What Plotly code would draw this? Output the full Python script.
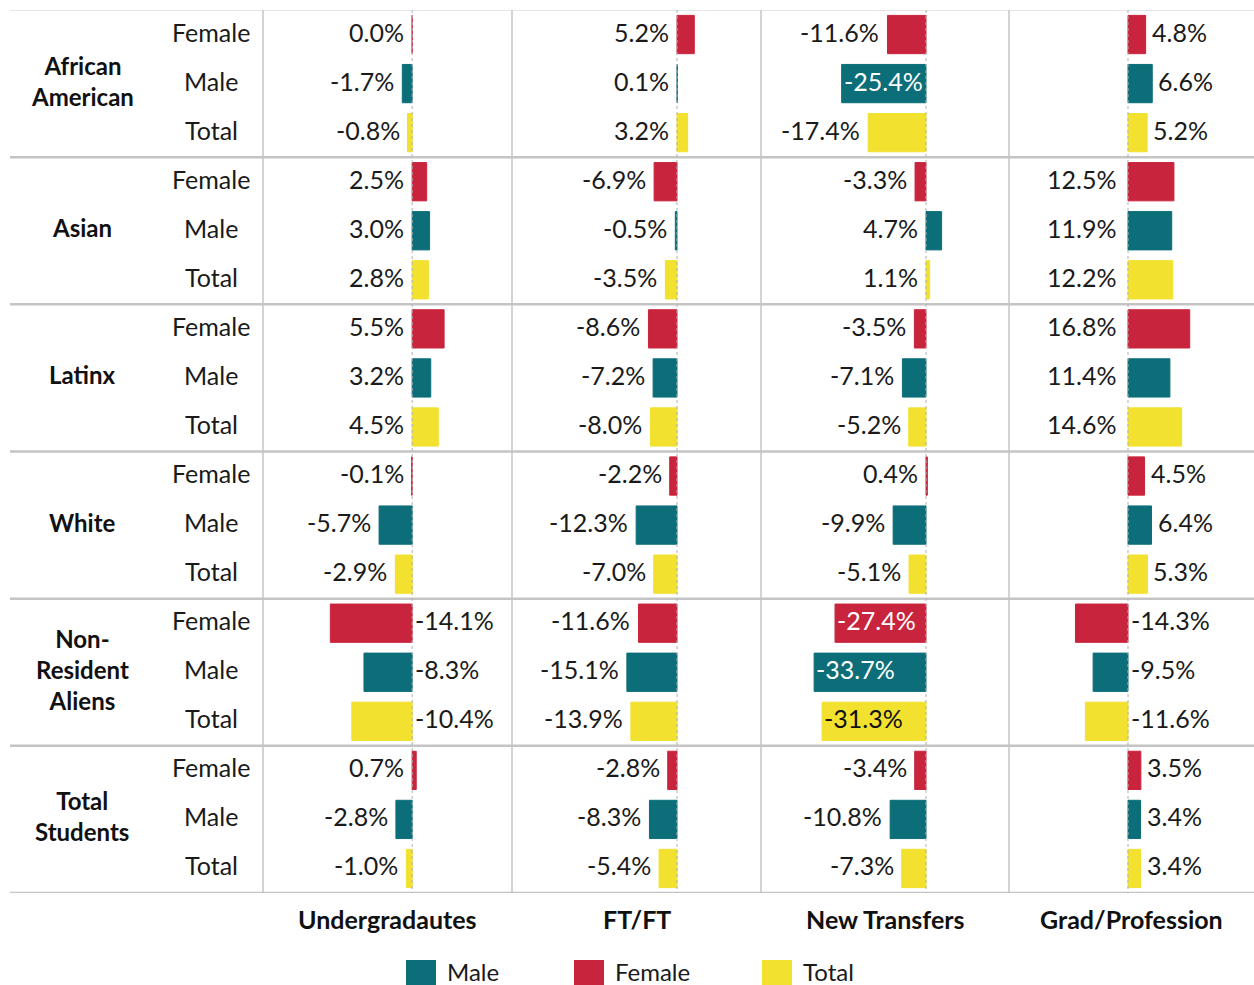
import plotly.graph_objects as go

W, H = 1254, 985

groups = ["African<br>American", "Asian", "Latinx", "White", "Non-<br>Resident<br>Aliens", "Total<br>Students"]
subgroups = ["Female", "Male", "Total"]
columns = ["Undergradautes", "FT/FT", "New Transfers", "Grad/Profession"]

undergrad = [0.0, -1.7, -0.8, 2.5, 3.0, 2.8, 5.5, 3.2, 4.5, -0.1, -5.7, -2.9, -14.1, -8.3, -10.4, 0.7, -2.8, -1.0]
ftft = [5.2, 0.1, 3.2, -6.9, -0.5, -3.5, -8.6, -7.2, -8.0, -2.2, -12.3, -7.0, -11.6, -15.1, -13.9, -2.8, -8.3, -5.4]
new_transfers = [-11.6, -25.4, -17.4, -3.3, 4.7, 1.1, -3.5, -7.1, -5.2, 0.4, -9.9, -5.1, -27.4, -33.7, -31.3, -3.4, -10.8, -7.3]
grad = [4.8, 6.6, 5.2, 12.5, 11.9, 12.2, 16.8, 11.4, 14.6, 4.5, 6.4, 5.3, -14.3, -9.5, -11.6, 3.5, 3.4, 3.4]

series = [undergrad, ftft, new_transfers, grad]

colors = {"Male": "#0B6E79", "Female": "#C9243D", "Total": "#F2E12F"}
FONT = "Lato"
TXT = "#1a1a1a"
VSIZE = 25
YS = 3

def px(x):
    return x / W

def py(y):
    return 1 - y / H

col_edges = [263, 512, 761, 1009, 1254]
x_ranges = [[-25.7, 17.2], [-49.7, 25.3], [-49.7, 25.0], [-32.4, 34.3]]
top_px, bot_px = 10, 893

fig = go.Figure()
axis_names = ["x", "x2", "x3", "x4"]
n = len(groups) * len(subgroups)
rows = list(range(n))

for ci, vals in enumerate(series):
    for si, sg in enumerate(subgroups):
        idx = [r for r in rows if r % 3 == si]
        fig.add_trace(go.Bar(
            x=[vals[r] for r in idx], y=idx, orientation="h",
            marker=dict(color=colors[sg], line=dict(color=colors[sg], width=1)),
            width=0.78, name=sg, showlegend=False,
            xaxis=axis_names[ci], yaxis="y", hoverinfo="skip",
        ))

layout = dict(
    width=W, height=H, margin=dict(l=0, r=0, t=0, b=0),
    paper_bgcolor="white", plot_bgcolor="white",
    barmode="overlay", showlegend=False,
    font=dict(family=FONT, color=TXT),
    yaxis=dict(domain=[py(bot_px), py(top_px)], range=[n - 0.5, -0.5],
               visible=False, fixedrange=True),
)
for ci in range(4):
    key = "xaxis" if ci == 0 else f"xaxis{ci+1}"
    layout[key] = dict(domain=[px(col_edges[ci]), px(col_edges[ci + 1])],
                       range=x_ranges[ci], visible=False, anchor="y", fixedrange=True)
fig.update_layout(**layout)

shapes = []
annotations = []

shapes.append(dict(type="line", xref="paper", yref="y", x0=px(10), x1=1, y0=-0.5, y1=-0.5,
                   line=dict(color="#dcdcdc", width=1.5)))
for g in range(1, len(groups) + 1):
    yb = g * 3 - 0.5
    shapes.append(dict(type="line", xref="paper", yref="y", x0=px(10), x1=1, y0=yb, y1=yb,
                       line=dict(color="#c4c4c4", width=2.5)))
for e in col_edges[:4]:
    shapes.append(dict(type="line", xref="paper", yref="y", x0=px(e), x1=px(e), y0=-0.5, y1=n - 0.5,
                       line=dict(color="#c4c4c4", width=1.5)))
for ci in range(4):
    shapes.append(dict(type="line", xref=axis_names[ci], yref="y", x0=0, x1=0, y0=-0.5, y1=n - 0.5,
                       line=dict(color="#b0b0b0", width=1, dash="dot"), layer="above"))

for gi, g in enumerate(groups):
    annotations.append(dict(xref="paper", yref="y", x=px(82), y=gi * 3 + 1, text=f"<b>{g}</b>",
                            showarrow=False, font=dict(size=24, family=FONT, color="#111"),
                            xanchor="center", yanchor="middle", align="center", yshift=YS))
for r in rows:
    annotations.append(dict(xref="paper", yref="y", x=px(211), y=r, text=subgroups[r % 3],
                            showarrow=False, font=dict(size=VSIZE, family=FONT, color=TXT),
                            xanchor="center", yanchor="middle", yshift=YS))

def placement(ci, v):
    if ci == 0:
        return "R0" if v <= -8 else "Lv"
    if ci == 1:
        return "Lv"
    if ci == 2:
        return "IN" if v < -20 else "Lv"
    if v < 0:
        return "R0"
    if v > 10:
        return "L0"
    return "Rv"

for ci, vals in enumerate(series):
    for r in rows:
        v = vals[r]
        pos = placement(ci, v)
        color = TXT
        if pos == "Lv":
            x, xa, xs = min(v, 0), "right", -6
        elif pos == "R0":
            x, xa, xs = 0, "left", 1
        elif pos == "Rv":
            x, xa, xs = max(v, 0), "left", 4
        elif pos == "L0":
            x, xa, xs = 0, "right", -10
        else:
            x, xa, xs = v, "left", 0
            color = "white" if r % 3 != 2 else "#111"
        annotations.append(dict(xref=axis_names[ci], yref="y", x=x, y=r, text=f"{v:.1f}%",
                                showarrow=False, xanchor=xa, xshift=xs, yanchor="middle", yshift=YS,
                                font=dict(size=VSIZE, family=FONT, color=color)))

for ci, c in enumerate(columns):
    cx = (col_edges[ci] + col_edges[ci + 1]) / 2
    annotations.append(dict(xref="paper", yref="paper", x=px(cx), y=py(919), text=f"<b>{c}</b>",
                            showarrow=False, xanchor="center", yanchor="middle",
                            font=dict(size=25, family=FONT, color="#111")))

legend_items = [("Male", 406), ("Female", 574), ("Total", 762)]
for name, lx in legend_items:
    shapes.append(dict(type="rect", xref="paper", yref="paper", x0=px(lx), x1=px(lx + 30),
                       y0=py(985), y1=py(960), fillcolor=colors[name], line=dict(width=0)))
    annotations.append(dict(xref="paper", yref="paper", x=px(lx + 39), y=py(971), text=name,
                            showarrow=False, xanchor="left", yanchor="middle",
                            font=dict(size=24, family=FONT, color=TXT)))

fig.update_layout(shapes=shapes, annotations=annotations)
fig.write_html("out.html", config={"displayModeBar": False},
               post_script="document.body.style.margin='0';document.body.style.overflow='hidden';")
